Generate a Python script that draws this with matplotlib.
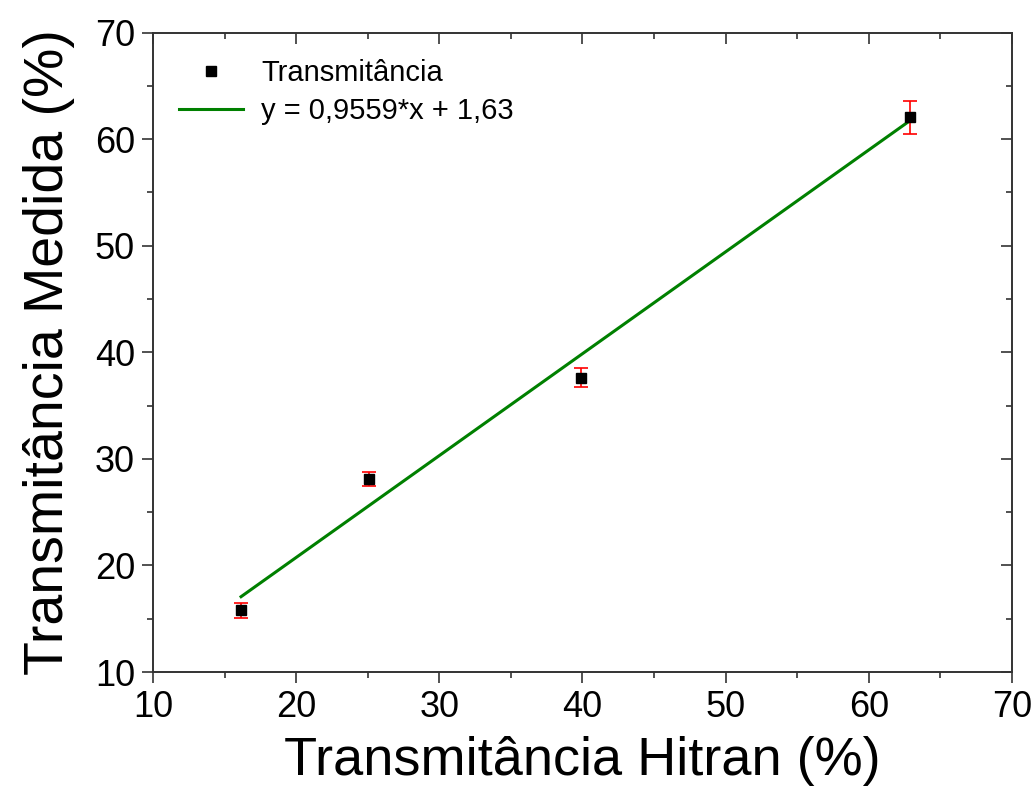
import numpy as np
import matplotlib
matplotlib.use("Agg")
import matplotlib.pyplot as plt

plt.rcParams['font.family'] = ['Liberation Sans', 'DejaVu Sans']

# dados medidos
hitran = [16.15, 25.08, 39.9, 62.9]
medida = [15.8, 28.1, 37.6, 62.05]
erro = [0.7, 0.65, 0.9, 1.55]

# ajuste linear
a = 0.9559
b = 1.63
rotulo_ajuste = "y = 0,9559*x + 1,63"

fig = plt.figure(figsize=(10.36, 7.87), dpi=100)
ax = fig.add_axes([0.1477, 0.1461, 0.8291, 0.8126])

xf = np.linspace(min(hitran), max(hitran), 100)
linha, = ax.plot(xf, a*xf + b, color='#008000', lw=2.2, label=rotulo_ajuste, zorder=2)
ax.errorbar(hitran, medida, yerr=erro, fmt='none', ecolor='red',
            elinewidth=1.2, capsize=5, capthick=1.2, zorder=3)
pontos, = ax.plot(hitran, medida, 's', color='black', ms=6.5,
                  label='Transmitância', zorder=4)

ax.set_xlim(10, 70)
ax.set_ylim(10, 70)
ax.set_xticks(np.arange(10, 71, 10))
ax.set_yticks(np.arange(10, 71, 10))
ax.set_xticks(np.arange(15, 70, 10), minor=True)
ax.set_yticks(np.arange(15, 70, 10), minor=True)

ax.tick_params(which='both', direction='out', width=1.2, colors='#333333',
               labelcolor='black', labelsize=26)
ax.tick_params(which='major', length=8, pad=5)
ax.tick_params(which='minor', length=4)
ax.tick_params(which='both', top=True, right=True)
for t in ax.xaxis.get_major_ticks() + ax.xaxis.get_minor_ticks():
    t.tick2line.set_marker(matplotlib.lines.TICKDOWN)
for t in ax.yaxis.get_major_ticks() + ax.yaxis.get_minor_ticks():
    t.tick2line.set_marker(matplotlib.lines.TICKLEFT)
for s in ax.spines.values():
    s.set_linewidth(1.4)
    s.set_color('#333333')

ax.set_xlabel("Transmitância Hitran (%)", fontsize=39, labelpad=8)
ax.set_ylabel("Transmitância Medida (%)", fontsize=40, labelpad=14)

ax.legend([pontos, linha], ['Transmitância', rotulo_ajuste], loc='upper left',
          frameon=False, fontsize=21, handlelength=2.2, handletextpad=0.6,
          borderaxespad=0.5, labelspacing=0.35)

fig.savefig("out.png", dpi=100)
